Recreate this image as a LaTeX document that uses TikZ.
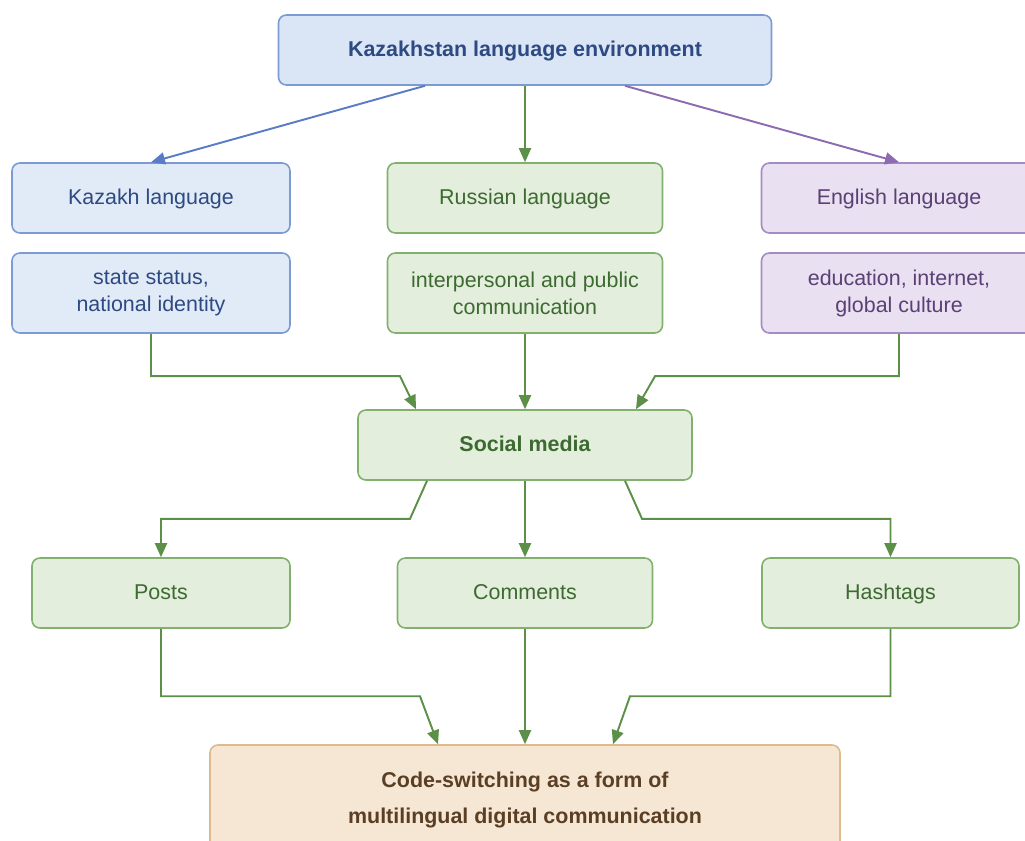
\documentclass[tikz,border=0pt]{standalone}
\usepackage{fontspec}
\setmainfont{Liberation Sans}
\usepackage{tikz}
\usetikzlibrary{arrows.meta,calc,positioning}
\definecolor{bluefill}{HTML}{E1EAF7}
\definecolor{bluetop}{HTML}{DAE5F5}
\definecolor{blueline}{HTML}{7D9BD3}
\definecolor{bluetext}{HTML}{2E4A82}
\definecolor{bluearr}{HTML}{5A7CC6}
\definecolor{greenfill}{HTML}{E3EEDC}
\definecolor{greenline}{HTML}{82B06E}
\definecolor{greentext}{HTML}{3D6A31}
\definecolor{greenarr}{HTML}{5C9049}
\definecolor{purpfill}{HTML}{E9E0F1}
\definecolor{purpline}{HTML}{A68BC2}
\definecolor{purptext}{HTML}{5B4075}
\definecolor{purparr}{HTML}{8D6BB1}
\definecolor{tanfill}{HTML}{F6E7D4}
\definecolor{tanline}{HTML}{DDBB8E}
\definecolor{tantext}{HTML}{5B3F25}
\tikzset{box/.style={draw,rounded corners=4.5pt,align=center,line width=0.9pt,inner sep=3pt,font=\fontsize{12.2}{15.4}\selectfont},
  oneline/.style={text height=0.9em,text depth=0.15em},
  bluebox/.style={box,fill=bluefill,draw=blueline,text=bluetext},
  greenbox/.style={box,fill=greenfill,draw=greenline,text=greentext},
  purpbox/.style={box,fill=purpfill,draw=purpline,text=purptext},
  tanbox/.style={box,fill=tanfill,draw=tanline,text=tantext},
  arr/.style={-{Triangle[length=2.8mm,width=2.4mm]},line width=1.1pt},
  arrG/.style={arr,draw=greenarr}}

\begin{document}
\begin{tikzpicture}
\useasboundingbox (0,0) rectangle (20.5,-16.8);
% level 1
\node[bluebox,oneline,fill=bluetop,font=\fontsize{12.2}{15.4}\selectfont\bfseries,minimum width=9.86cm,minimum height=1.4cm] (env) at (10.5,-1.0) {Kazakhstan language environment};
% level 2: languages
\node[bluebox,oneline,minimum width=5.56cm,minimum height=1.4cm] (kl) at (3.02,-3.96) {Kazakh language};
\node[greenbox,oneline,minimum width=5.5cm,minimum height=1.4cm] (rl) at (10.5,-3.96) {Russian language};
\node[purpbox,oneline,minimum width=5.5cm,minimum height=1.4cm] (el) at (17.98,-3.96) {English language};
\node[bluebox,minimum width=5.56cm,minimum height=1.6cm] (kd) at (3.02,-5.86) {state status,\\national identity};
\node[greenbox,minimum width=5.5cm,minimum height=1.6cm] (rd) at (10.5,-5.86) {interpersonal and public\\communication};
\node[purpbox,minimum width=5.5cm,minimum height=1.6cm] (ed) at (17.98,-5.86) {education, internet,\\global culture};
% level 3
\node[greenbox,oneline,font=\fontsize{12.2}{15.4}\selectfont\bfseries,minimum width=6.68cm,minimum height=1.4cm] (sm) at (10.5,-8.9) {Social media};
\node[greenbox,oneline,minimum width=5.16cm,minimum height=1.4cm] (posts) at (3.22,-11.86) {Posts};
\node[greenbox,oneline,minimum width=5.1cm,minimum height=1.4cm] (com) at (10.5,-11.86) {Comments};
\node[greenbox,oneline,minimum width=5.14cm,minimum height=1.4cm] (ht) at (17.81,-11.86) {Hashtags};
% result
\node[tanbox,font=\fontsize{12.2}{20.5}\selectfont\bfseries,minimum width=12.6cm,minimum height=2.2cm] (cs) at (10.5,-16.0) {Code-switching as a form of\\multilingual digital communication};
% arrows
\draw[arr,draw=bluearr] ($(env.south)+(-2.0,0)$) -- (kl.north);
\draw[arrG] (env.south) -- (rl.north);
\draw[arr,draw=purparr] ($(env.south)+(2.0,0)$) -- (el.north);
\draw[arrG] (kd.south) |- ($(sm.north)+(-2.5,0.66)$) -- ($(sm.north)+(-2.18,0)$);
\draw[arrG] (rd.south) -- (sm.north);
\draw[arrG] (ed.south) |- ($(sm.north)+(2.6,0.66)$) -- ($(sm.north)+(2.22,0)$);
\draw[arrG] ($(sm.south)+(-1.96,0)$) -- ($(sm.south)+(-2.3,-0.76)$) -| (posts.north);
\draw[arrG] (sm.south) -- (com.north);
\draw[arrG] ($(sm.south)+(2.0,0)$) -- ($(sm.south)+(2.34,-0.76)$) -| (ht.north);
\draw[arrG] (posts.south) |- ($(cs.north)+(-2.1,0.96)$) -- ($(cs.north)+(-1.74,0)$);
\draw[arrG] (com.south) -- (cs.north);
\draw[arrG] (ht.south) |- ($(cs.north)+(2.1,0.96)$) -- ($(cs.north)+(1.76,0)$);
\end{tikzpicture}
\end{document}
